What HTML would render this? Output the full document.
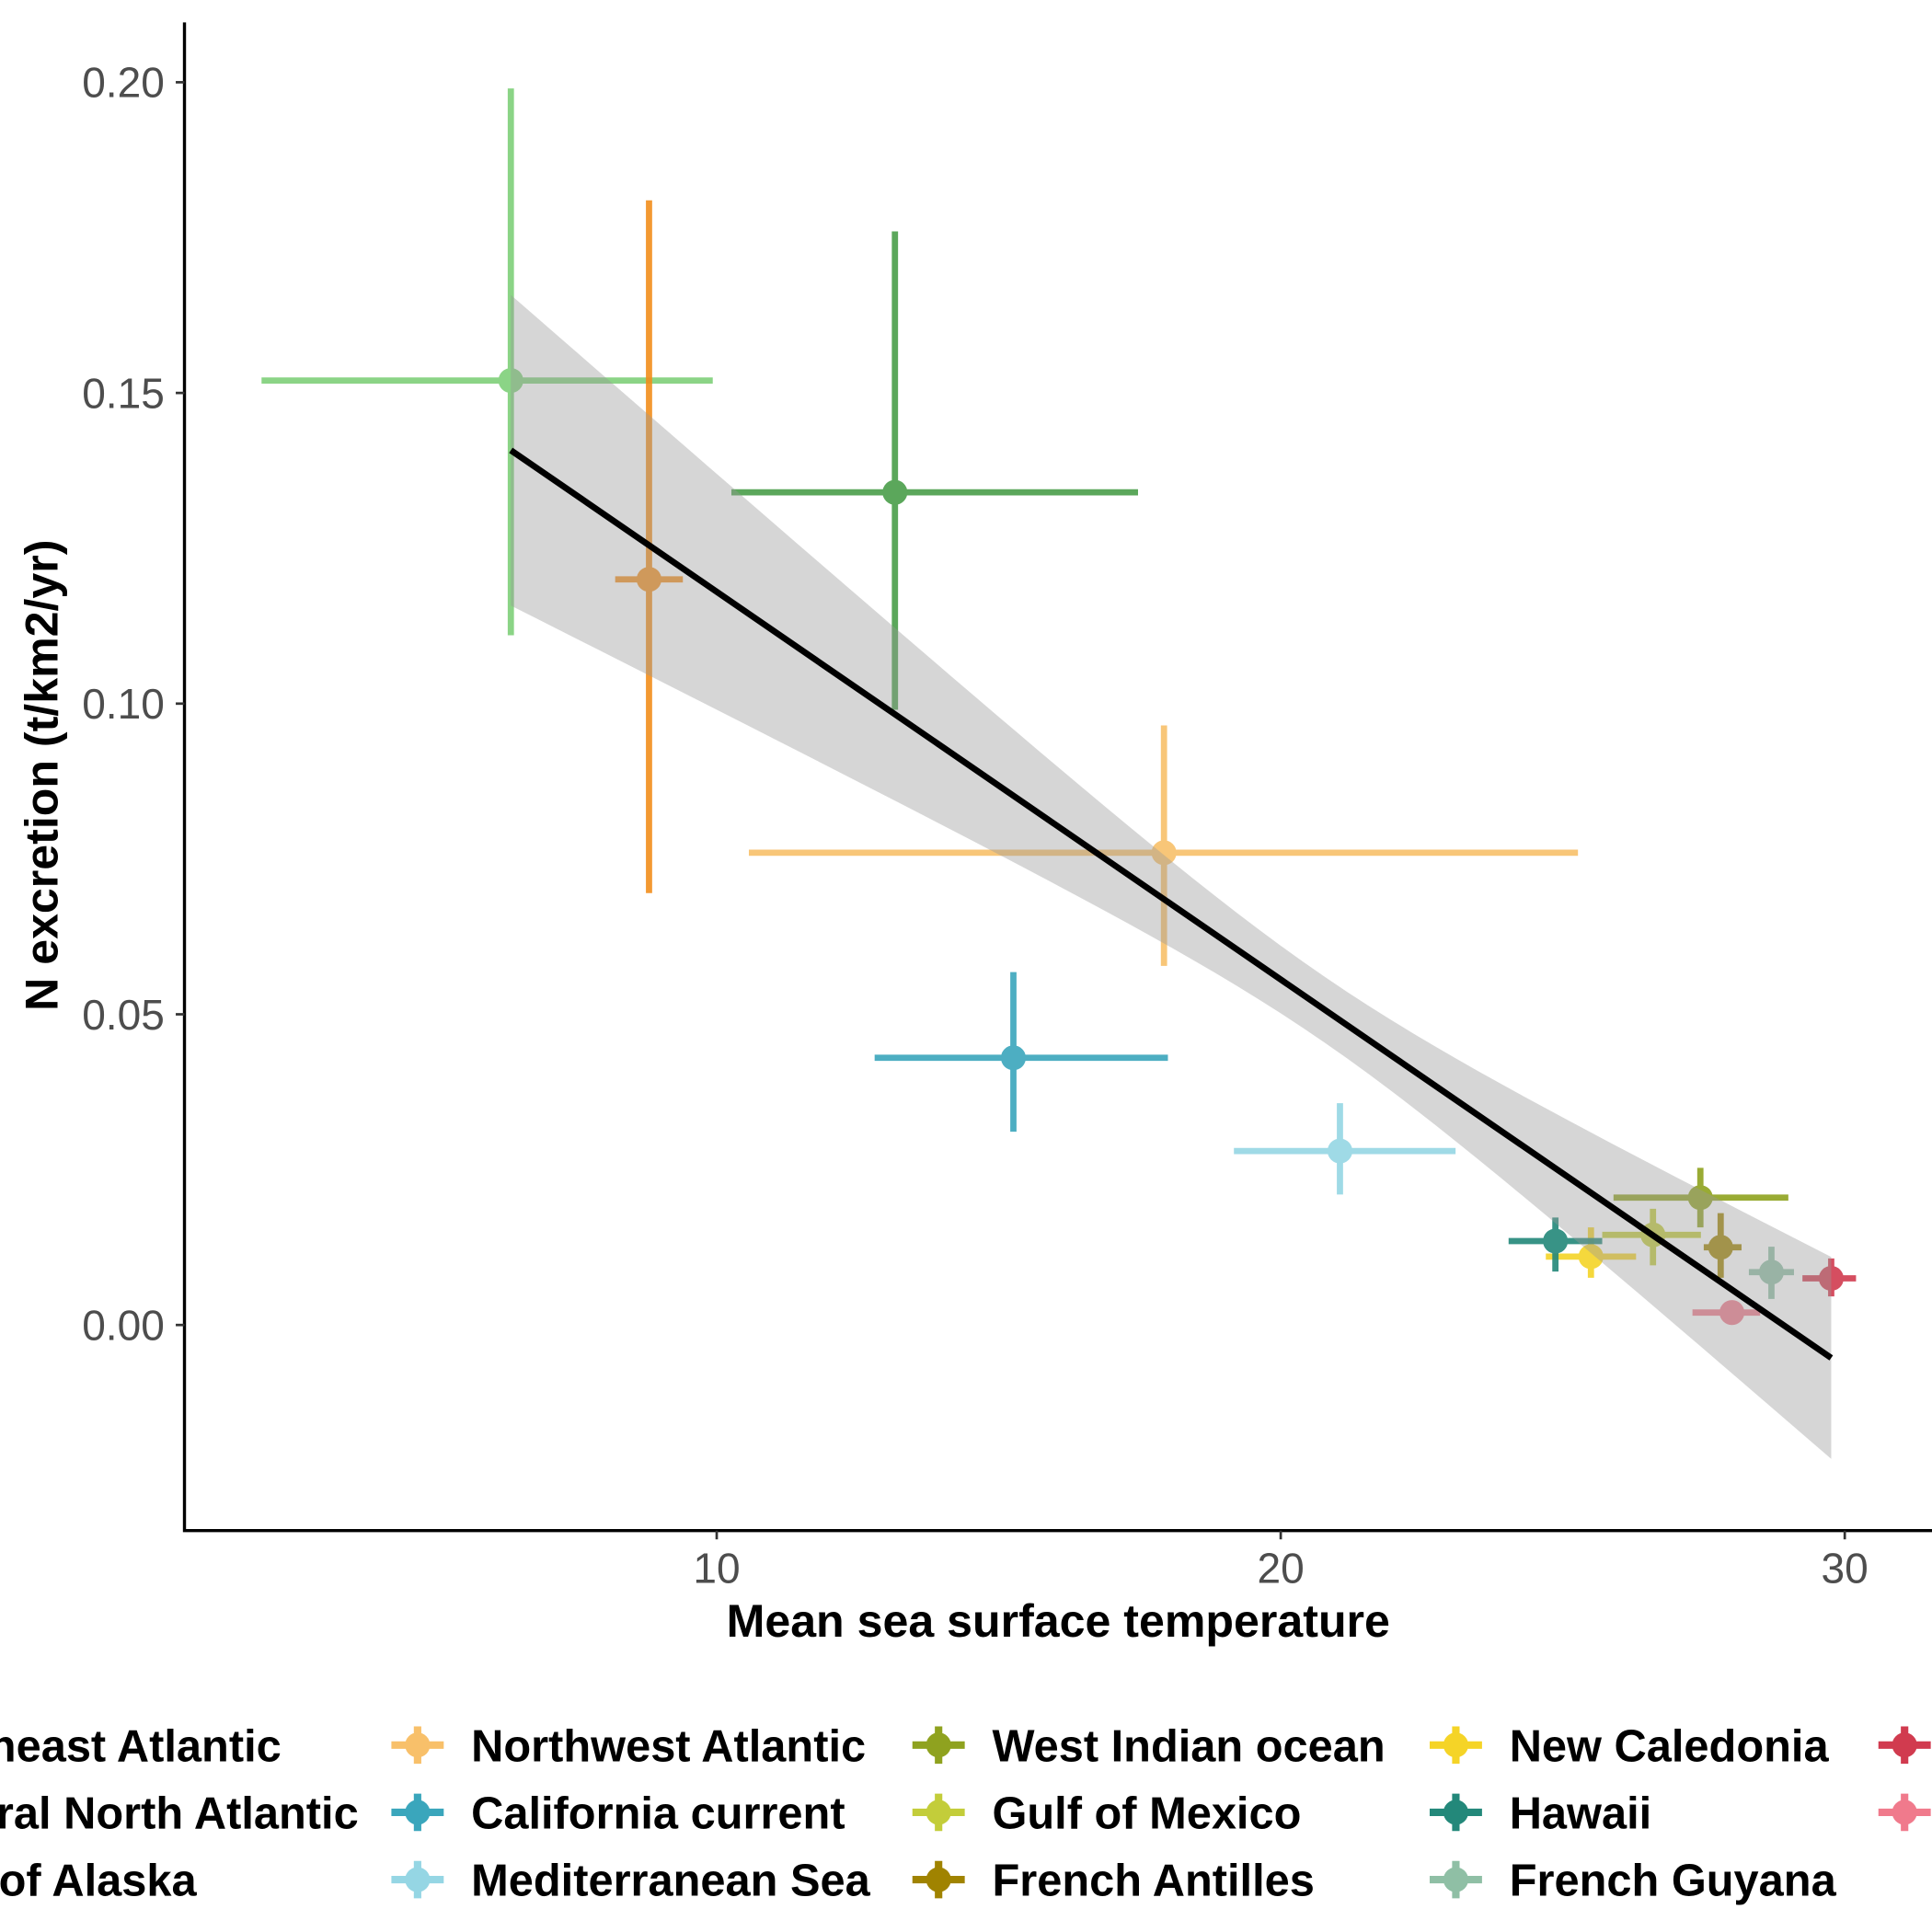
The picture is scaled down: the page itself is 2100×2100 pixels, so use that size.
<!DOCTYPE html>
<html><head><meta charset="utf-8"><style>
html,body{margin:0;padding:0;background:#fff;}
svg{display:block;}
text{font-family:"Liberation Sans",Arial,sans-serif;}
</style></head><body>
<svg id="chart" width="2100" height="2100" viewBox="0 0 1550 1550" xmlns="http://www.w3.org/2000/svg">
<g id="marks"></g>
<g id="ribbon-layer"></g>
<g id="axes"></g>
<g id="legend"></g>
</svg>
<script>
const regions = ["Northeast Atlantic","Central North Atlantic","Gulf of Alaska","Northwest Atlantic","California current","Mediterranean Sea","West Indian ocean","Gulf of Mexico","French Antilles","New Caledonia","Hawaii","French Guyana","Reunion","Mayotte"];
const colors = ["#7fd07a","#4a9e4a","#f28e1c","#f8c06a","#3aa6bc","#95d6e4","#8fa21f","#c3cd3a","#a08300","#f5d427","#23887a","#8fbfa5","#d13b4f","#f07a8c"];
const meanTemp = [6.35,13.16,8.8,17.93,15.26,21.05,27.44,26.6,27.8,25.5,24.87,28.7,29.76,28.0];
const tempLow  = [1.93,10.26,8.2,10.57,12.8,19.17,25.9,25.7,27.5,24.7,24.04,28.3,29.25,27.3];
const tempHigh = [9.93,17.47,9.4,25.27,18.0,23.1,29.0,27.45,28.17,26.3,25.7,29.1,30.2,28.5];
const nExcr    = [0.152,0.134,0.120,0.076,0.043,0.028,0.0205,0.0145,0.0125,0.011,0.0135,0.0085,0.0075,0.002];
const nLow     = [0.111,0.099,0.0695,0.0578,0.0311,0.021,0.0157,0.0096,0.0076,0.0076,0.0086,0.0042,0.0046,0.0015];
const nHigh    = [0.199,0.176,0.181,0.0965,0.0568,0.0357,0.0253,0.0187,0.018,0.0157,0.0173,0.0126,0.0107,0.0025];
const fitRange = [6.35,29.76];
const fitCoef = [0.1804,-0.00624];   // intercept, slope
const fitSe = [0.0053,0.0017,20.72]; // se at mean, slope term, mean x
const xTicks = [10,20,30];
const yTicks = [0,0.05,0.10,0.15,0.20];
const yTickLabels = ["0.00","0.05","0.10","0.15","0.20"];

const NS="http://www.w3.org/2000/svg";
const X = v => 122.5 + v*45.25;
const Y = v => 1063 - v*4985;
function mk(tag, attrs, parent){const e=document.createElementNS(NS,tag);for(const k in attrs)e.setAttribute(k,attrs[k]);parent.appendChild(e);return e;}
const marks=document.getElementById('marks'), rib=document.getElementById('ribbon-layer'), axes=document.getElementById('axes'), legend=document.getElementById('legend');

regions.forEach((r,i)=>{
  const g=mk('g',{opacity:0.9},marks);
  
  
  const h=mk('line',{x1:X(tempLow[i]),x2:X(tempHigh[i]),y1:Y(nExcr[i]),y2:Y(nExcr[i]),stroke:colors[i],'stroke-width':5},g);
  
  
  const v=mk('line',{x1:X(meanTemp[i]),x2:X(meanTemp[i]),y1:Y(nLow[i]),y2:Y(nHigh[i]),stroke:colors[i],'stroke-width':5},g);
  
  
  const c=mk('circle',{cx:X(meanTemp[i]),cy:Y(nExcr[i]),r:10,fill:colors[i]},g);
  
  
});

let up=[],dn=[];
for(let k=0;k<=60;k++){
  const x=fitRange[0]+(fitRange[1]-fitRange[0])*k/60;
  const yhat=fitCoef[0]+fitCoef[1]*x;
  const se=Math.sqrt(fitSe[0]**2+(fitSe[1]*(x-fitSe[2]))**2);
  up.push(X(x)+','+Y(yhat+se)); dn.unshift(X(x)+','+Y(yhat-se));
}
const poly=mk('polygon',{points:up.concat(dn).join(' '),fill:'#999999','fill-opacity':0.4},rib);


const fl=mk('line',{x1:X(fitRange[0]),y1:Y(fitCoef[0]+fitCoef[1]*fitRange[0]),x2:X(fitRange[1]),y2:Y(fitCoef[0]+fitCoef[1]*fitRange[1]),stroke:'#000','stroke-width':5},rib);



const ax=mk('path',{d:'M148,18 V1228 H1550',fill:'none',stroke:'#000','stroke-width':2.5},axes);


xTicks.forEach(t=>{
  const tk=mk('line',{x1:X(t),x2:X(t),y1:1228,y2:1235,stroke:'#333','stroke-width':2},axes);
  
  
  const tx=mk('text',{x:X(t),y:1270,'text-anchor':'middle','font-size':34,fill:'#4d4d4d'},axes);
  tx.textContent=t;
  
  
});
yTicks.forEach((t,i)=>{
  const tk=mk('line',{x1:141,x2:148,y1:Y(t),y2:Y(t),stroke:'#333','stroke-width':2},axes);
  
  
  const tx=mk('text',{x:132,y:Y(t)+12,'text-anchor':'end','font-size':34,fill:'#4d4d4d'},axes);
  tx.textContent=yTickLabels[i];
  
  
});
const xt=mk('text',{x:849,y:1313,'text-anchor':'middle','font-size':37,'font-weight':'bold'},axes);
xt.textContent='Mean sea surface temperature';


const yt=mk('text',{x:0,y:0,'text-anchor':'middle','font-size':37,'font-weight':'bold',transform:'translate(46,622) rotate(-90)'},axes);
yt.textContent='N excretion (t/km2/yr)';



const keyX=[-126,335,753,1168,1528], rowY=[1400,1454,1508];
regions.forEach((r,i)=>{
  const col=Math.floor(i/3), row=i%3;
  const kx=keyX[col], ky=rowY[row];
  const g=mk('g',{},legend);
  
  
  mk('line',{x1:kx-21,x2:kx+21,y1:ky,y2:ky,stroke:colors[i],'stroke-width':6},g);
  mk('line',{x1:kx,x2:kx,y1:ky-15,y2:ky+15,stroke:colors[i],'stroke-width':6},g);
  mk('circle',{cx:kx,cy:ky,r:10,fill:colors[i]},g);
  const t=mk('text',{x:kx+43,y:ky+13,'font-size':36,'font-weight':'bold'},g);
  t.textContent=r;
});
</script>
</body></html>
